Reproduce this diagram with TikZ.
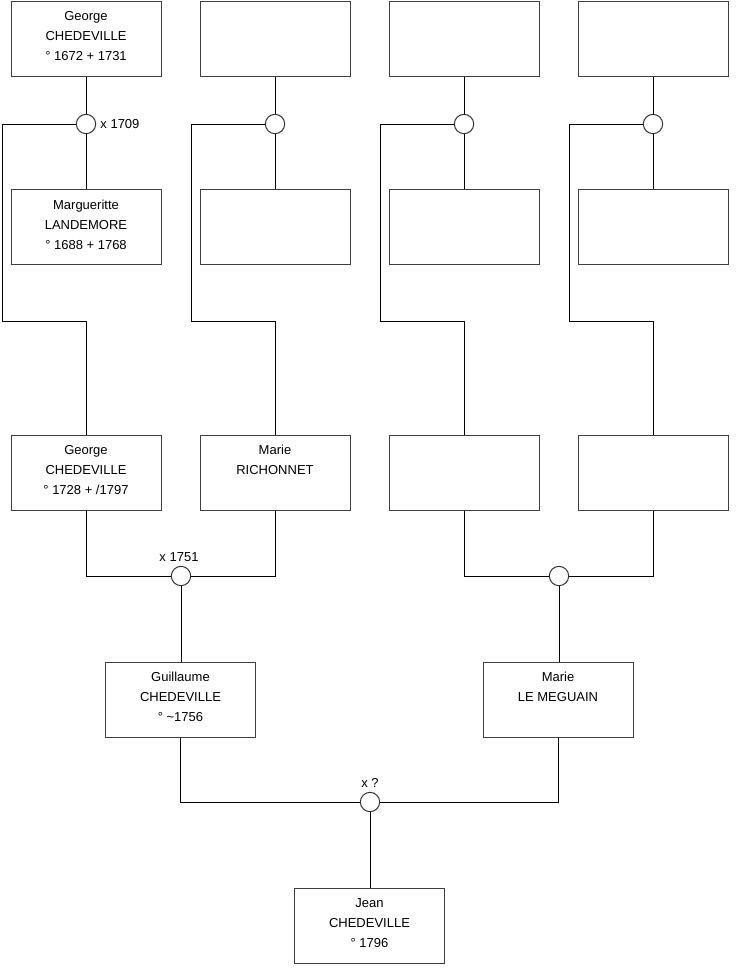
\documentclass[tikz,border=0pt]{standalone}
\usepackage{fontspec}
\setmainfont{Liberation Sans}
\begin{document}
\begin{tikzpicture}[x=0.75pt,y=-0.75pt,
  person/.style={draw=black!75,line width=0.75pt,fill=white,rectangle,minimum width=112.5pt,minimum height=56.25pt,inner sep=0pt},
  union/.style={draw=black!80,line width=0.75pt,fill=white,circle,minimum size=14.5pt,inner sep=0pt},
  info/.style={anchor=north,align=center,inner sep=0pt,font=\fontsize{9.75}{15}\selectfont,yshift=-8pt},
  lbl/.style={inner sep=0pt,font=\fontsize{9.75}{12}\selectfont},
  link/.style={draw=black,line width=0.75pt}]
\useasboundingbox (0,0) rectangle (740,975);
% row 1
\node[person] (a1) at (86,38.5) {};
\node[person] (a2) at (275,38.5) {};
\node[person] (a3) at (464,38.5) {};
\node[person] (a4) at (653,38.5) {};
% row 2
\node[person] (b1) at (86,227) {};
\node[person] (b2) at (275,227) {};
\node[person] (b3) at (464,227) {};
\node[person] (b4) at (653,227) {};
% row 3
\node[person] (c1) at (86,472.5) {};
\node[person] (c2) at (275,472.5) {};
\node[person] (c3) at (464,472.5) {};
\node[person] (c4) at (653,472.5) {};
% row 4
\node[person] (d1) at (180.5,699.5) {};
\node[person] (d2) at (558,699.5) {};
% row 5
\node[person] (e1) at (369.5,925.5) {};
% texts
\node[info] at (a1.north) {George\\CHEDEVILLE\\° 1672 + 1731};
\node[info] at (b1.north) {Margueritte\\LANDEMORE\\° 1688 + 1768};
\node[info] at (c1.north) {George\\CHEDEVILLE\\° 1728 + /1797};
\node[info] at (c2.north) {Marie\\RICHONNET};
\node[info] at (d1.north) {Guillaume\\CHEDEVILLE\\° \textasciitilde1756};
\node[info] at (d2.north) {Marie\\LE MEGUAIN};
\node[info] at (e1.north) {Jean\\CHEDEVILLE\\° 1796};
% unions row 1
\node[union] (u1) at (86,124) {};
\node[union] (u2) at (275,124) {};
\node[union] (u3) at (464,124) {};
\node[union] (u4) at (653,124) {};
\node[lbl,anchor=west] (l1) at ([xshift=3pt]u1.east) {x 1709};
% unions row 3
\node[union] (v1) at (181,576) {};
\node[union] (v2) at (559,576) {};
\node[lbl,anchor=south] (l2) at ([yshift=3pt,xshift=-1.5pt]v1.north) {x 1751};
% union row 4
\node[union] (w1) at (370,802) {};
\node[lbl,anchor=south] (l3) at ([yshift=3pt]w1.north) {x ?};
% corner coordinates
\coordinate (k1) at (2,321);
\coordinate (k2) at (191,321);
\coordinate (k3) at (380,321);
\coordinate (k4) at (569,321);
% links row 1-2-3
\foreach \i/\k in {1/k1,2/k2,3/k3,4/k4}{
  \draw[link] (a\i.south) -- (u\i.north);
  \draw[link] (u\i.south) -- (b\i.north);
  \draw[link] (u\i.west) -| (\k) -| (c\i.north);
}
% links row 3-4
\draw[link] (c1.south) |- (v1.west);
\draw[link] (v1.east) -| (c2.south);
\draw[link] (v1.south) -- (v1.south |- d1.north);
\draw[link] (c3.south) |- (v2.west);
\draw[link] (v2.east) -| (c4.south);
\draw[link] (v2.south) -- (v2.south |- d2.north);
% links row 4-5
\draw[link] (d1.south) |- (w1.west);
\draw[link] (w1.east) -| (d2.south);
\draw[link] (w1.south) -- (w1.south |- e1.north);
\end{tikzpicture}
\end{document}
